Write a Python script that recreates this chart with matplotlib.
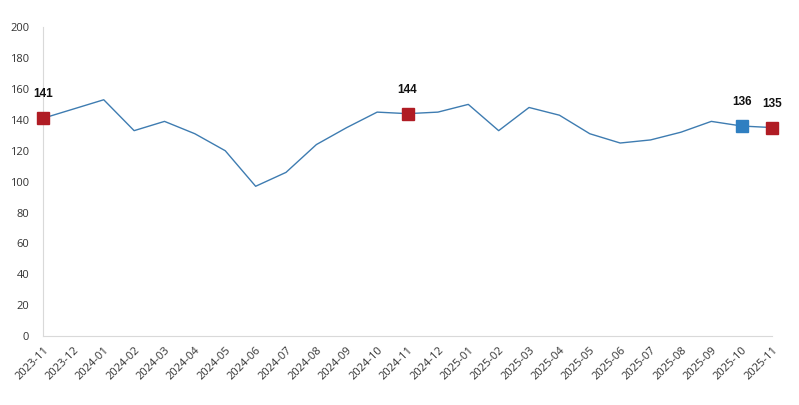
import matplotlib
matplotlib.use("Agg")
import matplotlib.pyplot as plt

# =========================================================
# Data
# =========================================================
months = [
    "2023-11", "2023-12", "2024-01", "2024-02", "2024-03", "2024-04",
    "2024-05", "2024-06", "2024-07", "2024-08", "2024-09", "2024-10",
    "2024-11", "2024-12", "2025-01", "2025-02", "2025-03", "2025-04",
    "2025-05", "2025-06", "2025-07", "2025-08", "2025-09", "2025-10",
    "2025-11",
]
values = [
    141, 147, 153, 133, 139, 131,
    120, 97, 106, 124, 135, 145,
    144, 145, 150, 133, 148, 143,
    131, 125, 127, 132, 139, 136,
    135,
]
# highlighted points
red_idx = [0, 12, 24]
blue_idx = [23]

LINE_C = "#3e7cb1"
RED_C = "#b01c24"
BLUE_C = "#2f7fc1"
SPINE_C = "#d9d9d9"

plt.rcParams["font.family"] = ["Open Sans", "DejaVu Sans"]

fig = plt.figure(figsize=(7.99, 4.05), dpi=100)
ax = fig.add_axes([0.0538, 0.170, 0.9125, 0.763])

x = list(range(len(months)))
ax.plot(x, values, color=LINE_C, linewidth=1.0, zorder=2)

for i in red_idx:
    ax.plot(x[i], values[i], marker="s", markersize=9, color=RED_C,
            linestyle="none", clip_on=False, zorder=3)
for i in blue_idx:
    ax.plot(x[i], values[i], marker="s", markersize=9, color=BLUE_C,
            linestyle="none", clip_on=False, zorder=3)

for i in red_idx + blue_idx:
    ax.annotate(str(values[i]), (x[i], values[i]), xytext=(0, 13),
                textcoords="offset points", ha="center", va="bottom",
                fontsize=8.5, fontweight="bold", family="Liberation Sans",
                color="#111111")

ax.set_xlim(0, len(months) - 1)
ax.set_ylim(0, 200)
ax.set_yticks(range(0, 201, 20))
ax.set_xticks(x)
ax.set_xticklabels(months, rotation=45, ha="right", rotation_mode="anchor")

ax.tick_params(axis="both", length=0, labelsize=8, colors="#333333")
ax.tick_params(axis="x", pad=6)
ax.tick_params(axis="y", pad=10)

for side in ["top", "right"]:
    ax.spines[side].set_visible(False)
for side in ["left", "bottom"]:
    ax.spines[side].set_color(SPINE_C)
    ax.spines[side].set_linewidth(0.8)

fig.savefig("out.png", dpi=100)
